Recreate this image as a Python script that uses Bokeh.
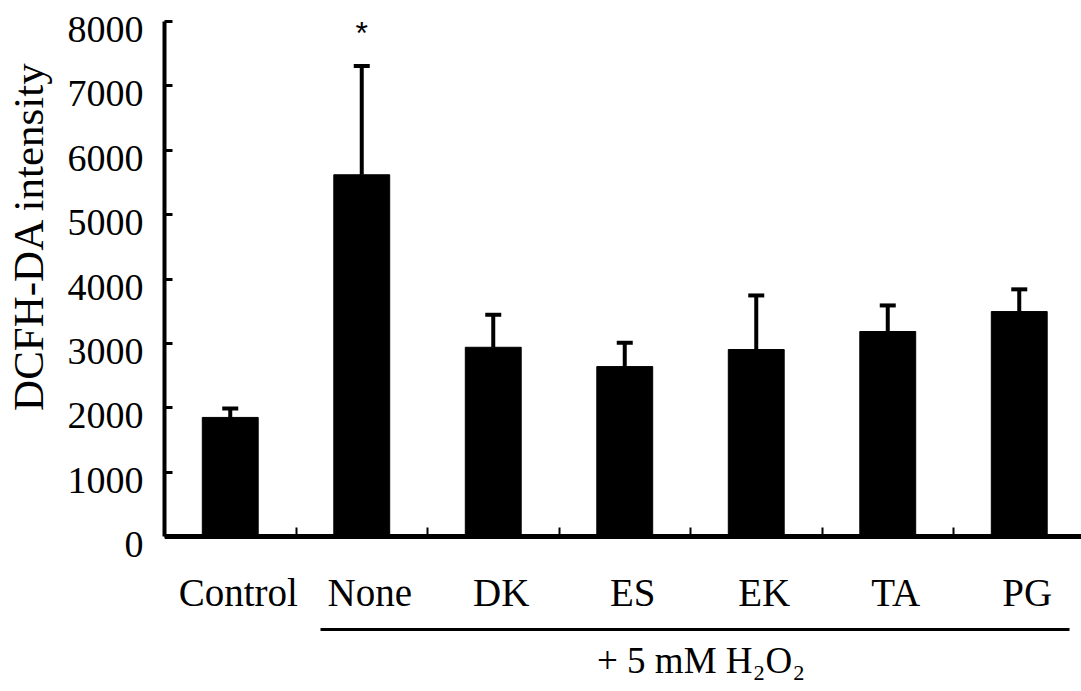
from bokeh.plotting import figure
from bokeh.models import (Range1d, LinearAxis, FixedTicker, Whisker, ColumnDataSource, TeeHead)
from bokeh.embed import file_html
from bokeh.resources import INLINE
from bokeh.core.properties import value

# ---- data ----
categories = ["Control", "None", "DK", "ES", "EK", "TA", "PG"]
means = [1850, 5620, 2940, 2640, 2905, 3185, 3495]
errors = [140, 1690, 505, 370, 840, 405, 345]
significant = [False, True, False, False, False, False, False]
y_ticks = [0, 1000, 2000, 3000, 4000, 5000, 6000, 7000, 8000]
y_label = "DCFH-DA intensity"
group_label = "+ 5 mM H\u2082O\u2082"

FONT = "Liberation Serif"
n = len(categories)
xs = [i + 0.5 for i in range(n)]
uppers = [m + e for m, e in zip(means, errors)]

# ---- layout constants (pixels -> data) ----
frame_w = 917
cat_px = 131.5
x_end = frame_w / cat_px
k = 531 / 8250                  # px per data unit on y
top_pad, zero_px, canvas_h = 5, 536, 691
frame_h = canvas_h - top_pad
y_view_max = (zero_px - top_pad) / k
y_view_min = -(canvas_h - zero_px) / k
group_line_y = -(628.5 - zero_px) / k

p = figure(frame_width=frame_w, frame_height=frame_h,
           min_border_left=164, min_border_right=0, min_border_top=top_pad, min_border_bottom=0,
           x_range=Range1d(0, x_end), y_range=Range1d(y_view_min, y_view_max),
           x_axis_location=None, y_axis_location=None,
           output_backend="svg", toolbar_location=None)
p.grid.visible = False
p.outline_line_color = None
p.background_fill_color = "white"
p.border_fill_color = "white"

# y axis: line + inward ticks
y_main = LinearAxis(ticker=FixedTicker(ticks=[], minor_ticks=y_ticks),
                    bounds=(min(y_ticks), max(y_ticks)),
                    axis_line_width=4, axis_line_color="black",
                    major_tick_in=0, major_tick_out=0,
                    minor_tick_in=8, minor_tick_out=0, minor_tick_line_width=3,
                    minor_tick_line_color="black")
p.add_layout(y_main, "left")

# y tick labels (range shifted so digits sit slightly below ticks)
shift_y = 8 / k
p.extra_y_ranges = {"lab": Range1d(y_view_min + shift_y, y_view_max + shift_y)}
y_lab = LinearAxis(y_range_name="lab", ticker=FixedTicker(ticks=y_ticks),
                   axis_line_color=None, major_tick_line_color=None,
                   minor_tick_line_color=None, major_tick_in=0, major_tick_out=0,
                   major_label_text_font=FONT, major_label_text_font_size="38px",
                   major_label_text_color="black", major_label_standoff=21)
p.add_layout(y_lab, "left")

# y title as a single rotated label
title_y = 4670
y_title = LinearAxis(ticker=FixedTicker(ticks=[title_y]),
                     major_label_overrides={title_y: y_label},
                     major_label_orientation="vertical",
                     axis_line_color=None, major_tick_line_color=None,
                     minor_tick_line_color=None, major_tick_in=0, major_tick_out=0,
                     major_label_text_font=FONT, major_label_text_font_size="43px",
                     major_label_text_color="black", major_label_standoff=12)
p.add_layout(y_title, "left")

# x axis at y = 0: line + inward boundary ticks
x_main = LinearAxis(fixed_location=0,
                    ticker=FixedTicker(ticks=[], minor_ticks=list(range(1, n))),
                    axis_line_width=5, axis_line_color="black",
                    major_tick_in=0, major_tick_out=0,
                    minor_tick_in=9, minor_tick_out=0, minor_tick_line_width=2,
                    minor_tick_line_color="black")
p.add_layout(x_main, "below")

# category labels
shift_x = 8 / cat_px
p.extra_x_ranges = {"lab": Range1d(-shift_x, x_end - shift_x)}
x_lab = LinearAxis(fixed_location=0, x_range_name="lab", ticker=FixedTicker(ticks=xs),
                   major_label_overrides={x: c for x, c in zip(xs, categories)},
                   axis_line_color=None, major_tick_line_color=None,
                   minor_tick_line_color=None, major_tick_in=0, major_tick_out=0,
                   major_label_text_font=FONT, major_label_text_font_size="39px",
                   major_label_text_color="black", major_label_standoff=34)
p.add_layout(x_lab, "below")

# group bracket line + label
group_center = 4.08
g_axis = LinearAxis(fixed_location=group_line_y,
                    ticker=FixedTicker(ticks=[group_center]),
                    major_label_overrides={group_center: group_label},
                    bounds=(1.186, 6.882),
                    axis_line_width=3, axis_line_color="black",
                    major_tick_line_color=None, minor_tick_line_color=None,
                    major_tick_in=0, major_tick_out=0, minor_tick_in=0, minor_tick_out=0,
                    major_label_text_font=FONT, major_label_text_font_size="37px",
                    major_label_text_color="black", major_label_standoff=11)
p.add_layout(g_axis, "below")

# bars
p.vbar(x=xs, top=means, width=0.425, fill_color="black", line_color="black", line_width=1)

# error bars
src = ColumnDataSource(dict(x=xs, lower=means, upper=uppers))
p.add_layout(Whisker(base="x", lower="lower", upper="upper", source=src,
                     line_width=4, line_color="black",
                     upper_head=TeeHead(size=16, line_width=4, line_color="black"),
                     lower_head=None))

# significance marks
sx = [x for x, s in zip(xs, significant) if s]
sy = [u + 18 / k + 240 for u, s in zip(uppers, significant) if s]
p.text(x=sx, y=sy, text=["*"] * len(sx), text_font=value("Liberation Sans"),
       text_font_size="32px", text_align="center", text_baseline="alphabetic",
       text_color="black")

open("out.html", "w").write(file_html(p, INLINE))
